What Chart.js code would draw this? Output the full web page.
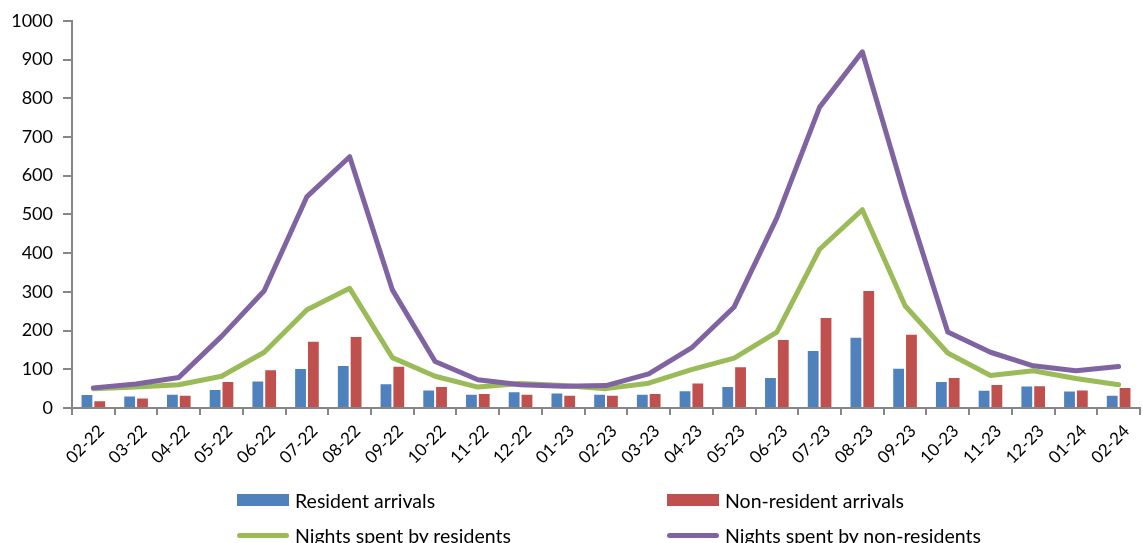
<!DOCTYPE html>
<html>
<head>
<meta charset="utf-8">
<script src="https://cdn.jsdelivr.net/npm/chart.js@4.4.1/dist/chart.umd.min.js"></script>
<style>
  body { margin: 0; background: #fff; }
  #wrap { position: relative; width: 1143px; height: 543px; overflow: hidden; }
  .leg { position: absolute; font-family: Lato, sans-serif; font-size: 19.5px; color: #000; display: flex; align-items: center; white-space: nowrap; }
  .sw { display: inline-block; width: 52px; margin-right: 6px; }
  .box { height: 12px; }
  .line { height: 5px; border-radius: 3px; }
</style>
</head>
<body>
<div id="wrap">
  <canvas id="myChart" width="1143" height="543"></canvas>
  <div id="legend"></div>
</div>
<script>
const labels = ['02-22', '03-22', '04-22', '05-22', '06-22', '07-22', '08-22', '09-22', '10-22', '11-22', '12-22', '01-23',
  '02-23', '03-23', '04-23', '05-23', '06-23', '07-23', '08-23', '09-23', '10-23', '11-23', '12-23', '01-24', '02-24'];

const residentArrivals = [36, 32, 37, 49, 71, 103, 111, 64, 48, 37, 43, 40, 37, 37, 46, 57, 80, 150, 184, 104, 70, 47, 58, 45, 34];
const nonResidentArrivals = [20, 27, 34, 70, 100, 174, 186, 109, 57, 39, 37, 34, 34, 39, 66, 108, 178, 235, 305, 192, 80, 62, 59, 48, 54];
const nightsResidents = [50, 54, 60, 82, 144, 254, 309, 130, 82, 54, 63, 58, 50, 64, 99, 129, 196, 410, 512, 264, 142, 84, 96, 76, 60];
const nightsNonResidents = [52, 62, 79, 185, 303, 546, 649, 305, 120, 73, 60, 56, 58, 88, 155, 261, 491, 777, 920, 545, 196, 144, 109, 96, 107];

const yTicks = [0, 100, 200, 300, 400, 500, 600, 700, 800, 900, 1000];

const BLUE = '#4F81BD';
const RED = '#C0504D';
const GREEN = '#9BBB59';
const PURPLE = '#8064A2';
const AXIS = '#868686';

const ctx = document.getElementById('myChart');
new Chart(ctx, {
  type: 'bar',
  data: {
    labels: labels,
    datasets: [{
      type: 'line',
      label: 'Nights spent by non-residents',
      data: nightsNonResidents,
      borderColor: PURPLE,
      borderWidth: 5,
      pointRadius: 0,
      tension: 0,
      borderCapStyle: 'round',
      borderJoinStyle: 'round',
      fill: false,
      order: 1
    }, {
      type: 'line',
      label: 'Nights spent by residents',
      data: nightsResidents,
      borderColor: GREEN,
      borderWidth: 5,
      pointRadius: 0,
      tension: 0,
      borderCapStyle: 'round',
      borderJoinStyle: 'round',
      fill: false,
      order: 2
    }, {
      label: 'Resident arrivals',
      data: residentArrivals,
      backgroundColor: BLUE,
      borderColor: 'rgba(255,255,255,0.4)',
      borderWidth: { top: 1, left: 1, right: 1, bottom: 0 },
      barPercentage: 1,
      categoryPercentage: 0.6,
      order: 3
    }, {
      label: 'Non-resident arrivals',
      data: nonResidentArrivals,
      backgroundColor: RED,
      borderColor: 'rgba(255,255,255,0.4)',
      borderWidth: { top: 1, left: 1, right: 1, bottom: 0 },
      barPercentage: 1,
      categoryPercentage: 0.6,
      order: 3
    }]
  },
  options: {
    responsive: false,
    animation: false,
    layout: { padding: { top: 12, right: 3, left: 0, bottom: 0 } },
    plugins: {
      legend: { display: false },
      tooltip: { enabled: false }
    },
    scales: {
      x: {
        offset: true,
        grid: { drawOnChartArea: false, color: AXIS, lineWidth: 2, tickLength: 7, offset: true },
        border: { color: AXIS, width: 2 },
        ticks: {
          color: '#000',
          font: { family: 'Lato', size: 17 },
          maxRotation: 45,
          minRotation: 45,
          autoSkip: false,
          padding: 6,
          labelOffset: 8
        },
        afterFit: (scale) => { scale.height = 135; }
      },
      y: {
        min: 0,
        max: 1000,
        afterBuildTicks: (scale) => { scale.ticks = yTicks.map(v => ({ value: v })); },
        grid: { drawOnChartArea: false, color: AXIS, lineWidth: 2, tickLength: 9 },
        border: { color: AXIS, width: 2 },
        ticks: {
          color: '#000',
          font: { family: 'Lato', size: 18 },
          padding: 10,
          callback: (v) => String(v)
        },
        afterFit: (scale) => { scale.width = 72; }
      }
    }
  }
});

// legend in two columns, as in the reference
const legendItems = [
  { text: 'Resident arrivals', color: BLUE, kind: 'box', x: 237, y: 500 },
  { text: 'Non-resident arrivals', color: RED, kind: 'box', x: 667, y: 500 },
  { text: 'Nights spent by residents', color: GREEN, kind: 'line', x: 237, y: 535 },
  { text: 'Nights spent by non-residents', color: PURPLE, kind: 'line', x: 667, y: 535 }
];
const legend = document.getElementById('legend');
legendItems.forEach(item => {
  const el = document.createElement('div');
  el.className = 'leg';
  el.style.left = item.x + 'px';
  el.style.top = (item.y - 12) + 'px';
  el.style.height = '24px';
  el.innerHTML = '<span class="sw ' + item.kind + '" style="background:' + item.color + '"></span>' + item.text;
  legend.appendChild(el);
});
</script>
</body>
</html>
